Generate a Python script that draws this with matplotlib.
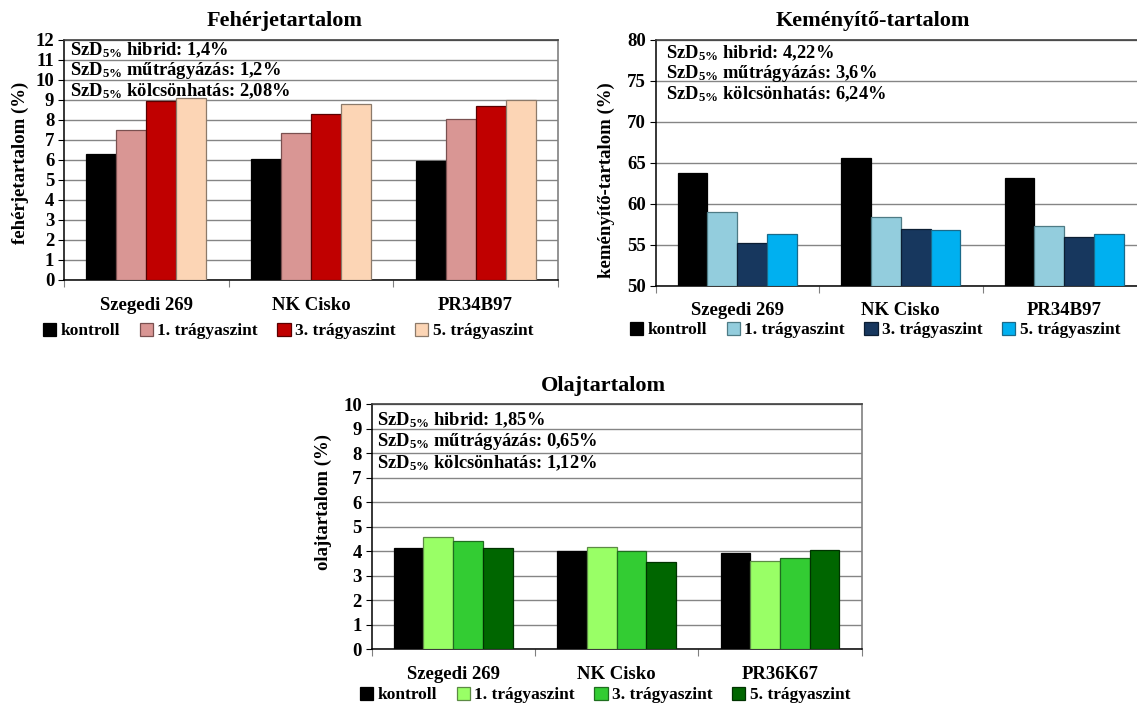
import matplotlib
matplotlib.use("Agg")
import matplotlib.pyplot as plt
import numpy as np

plt.rcParams["font.family"] = ["Liberation Serif", "DejaVu Serif"]
plt.rcParams["font.weight"] = "bold"
plt.rcParams["axes.labelweight"] = "bold"
plt.rcParams["mathtext.fontset"] = "custom"
plt.rcParams["mathtext.rm"] = "Liberation Serif:bold"
plt.rcParams["mathtext.bf"] = "Liberation Serif:bold"
plt.rcParams["mathtext.it"] = "Liberation Serif:bold"

# ---- data ----
series_names = ["kontroll", "1. trágyaszint", "3. trágyaszint", "5. trágyaszint"]

protein_hybrids = ["Szegedi 269", "NK Cisko", "PR34B97"]
protein_kontroll = [6.30, 6.05, 5.97]
protein_t1 = [7.48, 7.33, 8.03]
protein_t3 = [8.93, 8.30, 8.68]
protein_t5 = [9.12, 8.78, 8.98]
protein_notes = ["hibrid: 1,4%", "műtrágyázás: 1,2%", "kölcsönhatás: 2,08%"]

starch_hybrids = ["Szegedi 269", "NK Cisko", "PR34B97"]
starch_kontroll = [63.7, 65.55, 63.1]
starch_t1 = [58.95, 58.42, 57.24]
starch_t3 = [55.17, 56.92, 55.90]
starch_t5 = [56.27, 56.76, 56.27]
starch_notes = ["hibrid: 4,22%", "műtrágyázás: 3,6%", "kölcsönhatás: 6,24%"]

oil_hybrids = ["Szegedi 269", "NK Cisko", "PR36K67"]
oil_kontroll = [4.12, 4.01, 3.93]
oil_t1 = [4.57, 4.18, 3.60]
oil_t3 = [4.43, 4.02, 3.71]
oil_t5 = [4.15, 3.55, 4.05]
oil_notes = ["hibrid: 1,85%", "műtrágyázás: 0,65%", "kölcsönhatás: 1,12%"]

W, H = 1137, 704
fig = plt.figure(figsize=(W / 100, H / 100), dpi=100)


def px_axes(x0, x1, ytop, ybot):
    return fig.add_axes([x0 / W, (H - ybot) / H, (x1 - x0) / W, (ybot - ytop) / H])


def draw_chart(ax, hybrids, series, colors, edges, ylim, yticks, ylabel,
               ylabel_xy, notes, note_x, note_ys, title, title_xy, legend_xy,
               right_spine=True):
    n = len(series)
    w = 0.182
    x = np.arange(len(hybrids))
    handles = []
    for i, (vals, c, e) in enumerate(zip(series, colors, edges)):
        b = ax.bar(x + (i - (n - 1) / 2) * w, np.array(vals) - ylim[0],
                   bottom=ylim[0], width=w, color=c, edgecolor=e,
                   linewidth=0.9, zorder=3, label=series_names[i])
        handles.append(b)
    ax.set_xlim(-0.5, len(hybrids) - 0.5)
    ax.set_ylim(*ylim)
    ax.set_yticks(yticks)
    ax.set_yticklabels([str(t) for t in yticks], fontsize=13.5)
    ax.tick_params(axis="y", direction="out", length=4, width=0.8, pad=3)
    ax.set_xticks(np.arange(-0.5, len(hybrids)), labels=[""] * (len(hybrids) + 1))
    ax.tick_params(axis="x", which="major", direction="out", length=5,
                   width=0.8, color="#808080")
    ax.set_xticks(x, labels=hybrids, minor=True)
    ax.tick_params(axis="x", which="minor", length=0, pad=12, labelsize=13.5)
    ax.yaxis.grid(True, color="#858585", linewidth=1.0, zorder=0)
    ax.set_axisbelow(True)
    for s in ("left", "bottom"):
        ax.spines[s].set_color("black")
        ax.spines[s].set_linewidth(1.1)
    ax.spines["top"].set_color("#404040")
    ax.spines["top"].set_linewidth(1.2)
    ax.spines["right"].set_color("#808080")
    ax.spines["right"].set_linewidth(1.2)
    ax.spines["right"].set_visible(right_spine)
    ax.set_ylabel(ylabel, fontsize=13.5, va="center", ha="center")
    ax.yaxis.set_label_coords(*ylabel_xy)
    for note, ny in zip(notes, note_ys):
        ax.text(note_x, ny, r"SzD$_{\mathrm{5\%}}$ " + note, transform=ax.transAxes,
                fontsize=13.3, va="center", ha="left", zorder=5)
    fig.text(title_xy[0] / W, 1 - title_xy[1] / H, title, fontsize=16,
             ha="center", va="center")
    ax.legend(handles=handles, loc="center", ncol=4, frameon=False,
              bbox_to_anchor=(legend_xy[0] / W, 1 - legend_xy[1] / H),
              bbox_transform=fig.transFigure, fontsize=12.5,
              handlelength=0.75, handleheight=0.75, handletextpad=0.25,
              columnspacing=1.15, borderaxespad=0)


# Fehérjetartalom
ax1 = px_axes(64, 558, 40, 280)
draw_chart(ax1, protein_hybrids,
           [protein_kontroll, protein_t1, protein_t3, protein_t5],
           ["#000000", "#D99694", "#C00000", "#FCD5B5"],
           ["#000000", "#7A5050", "#5A0000", "#8C7A6A"],
           (0, 12), list(range(0, 13)), "fehérjetartalom (%)", (-0.089, 0.49),
           protein_notes, 0.012, [0.958, 0.872, 0.788],
           "Fehérjetartalom", (285, 21), (288, 331))

# Keményítő-tartalom
ax2 = px_axes(655.5, 1146, 39.7, 285.7)
draw_chart(ax2, starch_hybrids,
           [starch_kontroll, starch_t1, starch_t3, starch_t5],
           ["#000000", "#93CDDD", "#17375E", "#00B0F0"],
           ["#000000", "#4E7B85", "#0C1E33", "#1A6A8A"],
           (50, 80), list(range(50, 81, 5)), "keményítő-tartalom (%)", (-0.101, 0.43),
           starch_notes, 0.021, [0.947, 0.862, 0.777],
           "Keményítő-tartalom", (873, 21), (875, 330), right_spine=False)

# Olajtartalom
ax3 = px_axes(371.5, 861.7, 404.3, 649.3)
draw_chart(ax3, oil_hybrids,
           [oil_kontroll, oil_t1, oil_t3, oil_t5],
           ["#000000", "#99FF66", "#33CC33", "#006600"],
           ["#000000", "#5C8A45", "#1F6E1F", "#003300"],
           (0, 10), list(range(0, 11)), "olajtartalom (%)", (-0.098, 0.60),
           oil_notes, 0.012, [0.936, 0.847, 0.759],
           "Olajtartalom", (603, 386), (605, 695))

fig.savefig("out.png", dpi=100)
